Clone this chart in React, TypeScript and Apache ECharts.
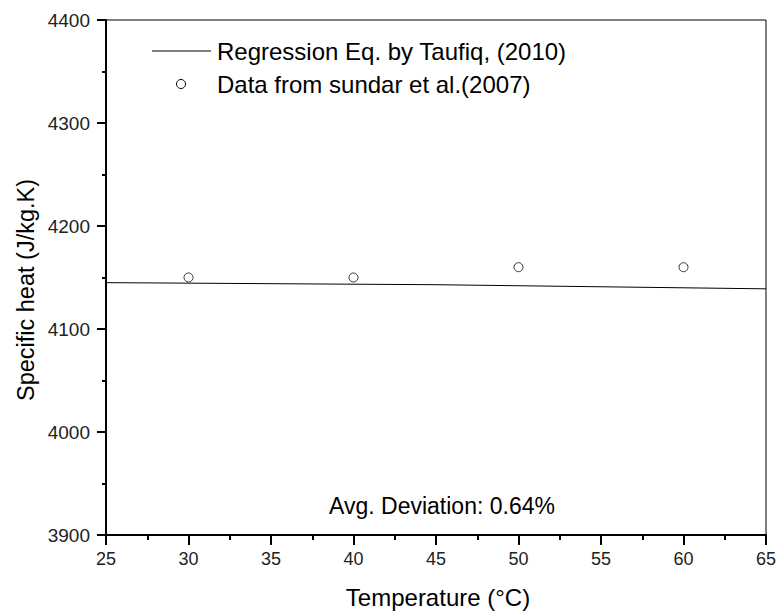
import React, { useEffect, useRef } from "react";
import * as echarts from "echarts";

const regressionX = [25, 35, 45, 55, 65];
const regressionY = [4145, 4144, 4143, 4141, 4139];
const dataX = [30, 40, 50, 60];
const dataY = [4150, 4150, 4160, 4160];
const legendLabels = ["Regression Eq. by Taufiq, (2010)", "Data from sundar et al.(2007)"];
const note = "Avg. Deviation: 0.64%";
const xName = "Temperature (°C)";
const yName = "Specific heat (J/kg.K)";

const FONT = "'Liberation Sans', Arial, sans-serif";

export default function App() {
  const ref = useRef<HTMLDivElement>(null);
  useEffect(() => {
    if (!ref.current) return;
    const chart = echarts.init(ref.current, null, { renderer: "svg" });
    chart.setOption({
      animation: false,
      backgroundColor: "#fff",
      textStyle: { fontFamily: FONT },
      grid: {
        left: 106, right: 15, top: 20, bottom: 78,
        show: true, borderColor: "#000", borderWidth: 1, backgroundColor: "transparent",
        containLabel: false, outerBoundsMode: "none",
      },
      xAxis: {
        type: "value",
        min: 25,
        max: 65,
        interval: 5,
        axisLine: { show: true, onZero: false, lineStyle: { color: "#000", width: 2 } },
        axisTick: { show: true, inside: false, length: 10, lineStyle: { color: "#000", width: 2 } },
        minorTick: { show: true, splitNumber: 2, length: 5, lineStyle: { color: "#000", width: 2 } },
        axisLabel: { fontSize: 18, color: "#222", margin: 15, fontFamily: FONT },
        splitLine: { show: false },
      },
      yAxis: {
        type: "value",
        min: 3900,
        max: 4400,
        interval: 100,
        axisLine: { show: true, onZero: false, lineStyle: { color: "#000", width: 2 } },
        axisTick: { show: true, inside: false, length: 9, lineStyle: { color: "#000", width: 2 } },
        minorTick: { show: true, splitNumber: 2, length: 4, lineStyle: { color: "#000", width: 2 } },
        axisLabel: { fontSize: 19, color: "#222", margin: 16, fontFamily: FONT, formatter: (v: number) => String(v) },
        splitLine: { show: false },
      },
      series: [
        {
          name: legendLabels[0],
          type: "line",
          data: regressionX.map((x, i) => [x, regressionY[i]]),
          symbol: "none",
          lineStyle: { color: "#000", width: 1 },
        },
        {
          name: legendLabels[1],
          type: "scatter",
          data: dataX.map((x, i) => [x, dataY[i]]),
          symbol: "circle",
          symbolSize: 9,
          itemStyle: { color: "#fff", borderColor: "#000", borderWidth: 1 },
        },
      ],
      graphic: [
        { type: "text", x: 26, y: 290, rotation: Math.PI / 2, style: { text: yName, font: `23.5px ${FONT}`, fill: "#000", textAlign: "center", textVerticalAlign: "middle" } },
        { type: "text", x: 438, y: 597, style: { text: xName, font: `24px ${FONT}`, fill: "#000", textAlign: "center", textVerticalAlign: "middle" } },
        { type: "line", shape: { x1: 152, y1: 51, x2: 211, y2: 51 }, style: { stroke: "#000", lineWidth: 1 } },
        { type: "text", x: 217, y: 51, style: { text: legendLabels[0], font: `24px ${FONT}`, fill: "#000", textVerticalAlign: "middle" } },
        { type: "circle", shape: { cx: 181, cy: 84, r: 4.5 }, style: { fill: "#fff", stroke: "#000", lineWidth: 1 } },
        { type: "text", x: 217, y: 84, style: { text: legendLabels[1], font: `24px ${FONT}`, fill: "#000", textVerticalAlign: "middle" } },
        { type: "text", x: 442, y: 506, style: { text: note, font: `23px ${FONT}`, fill: "#000", textAlign: "center", textVerticalAlign: "middle" } },
      ],
    });
    return () => chart.dispose();
  }, []);
  return <div ref={ref} style={{ position: "fixed", left: 0, top: 0, width: 781, height: 613 }} />;
}
